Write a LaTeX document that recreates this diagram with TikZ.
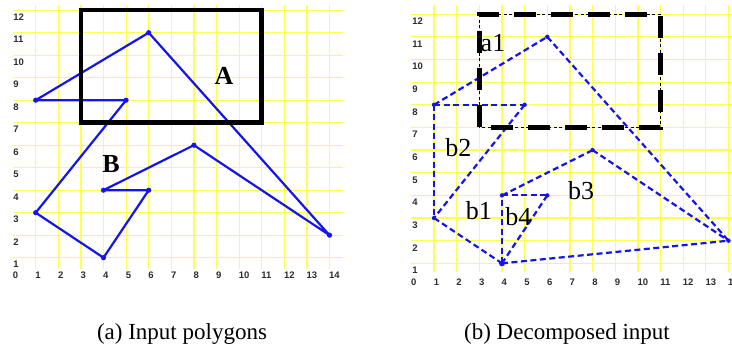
\documentclass[tikz,border=0pt]{standalone}
\usepackage{fontspec}
\setmainfont{Liberation Serif}
\newfontfamily\axisfont{Liberation Sans}
\definecolor{gridyellow}{RGB}{255,255,80}
\definecolor{polyblue}{RGB}{20,20,235}
\definecolor{axisgray}{RGB}{45,45,45}
\begin{document}
\begin{tikzpicture}[x=1pt,y=1pt,
  gridline/.style={draw=gridyellow, line width=1.2pt},
  axislbl/.style={font=\axisfont\bfseries\fontsize{9.5}{9.5}\selectfont, text=axisgray, inner sep=0pt, anchor=base west},
  polyline/.style={draw=polyblue, line width=2.2pt, line join=round, line cap=round},
  polydash/.style={draw=polyblue, line width=2.2pt, dash pattern=on 6pt off 3.5pt},
  vdot/.style={fill=polyblue},
  biglbl/.style={font=\bfseries\fontsize{26}{26}\selectfont, inner sep=0pt},
  partlbl/.style={font=\fontsize{26}{26}\selectfont, inner sep=0pt},
  captionlbl/.style={font=\fontsize{23}{23}\selectfont, inner sep=0pt, anchor=base}
]
\useasboundingbox (0,0) rectangle (732,345);

% ---------------- left panel ----------------
\begin{scope}[shift={(13.1,64.8)}, x=22.6pt, y=22.5pt]
  \foreach \i in {1,...,12} \draw[gridline] (0,\i) -- (14.6,\i);
  \foreach \i in {1,...,14} \draw[gridline] (\i,0.5) -- (\i,12.23);
  \foreach \i in {1,...,12} \node[axislbl, yshift=-9.9pt] (ly\i) at (0,\i) {\i};
  \foreach \i in {0,...,14} \node[axislbl, xshift=-0.5pt, yshift=-3.4pt] (lx\i) at (\i,0.23) {\i};
  \coordinate (p1) at (1,8);
  \coordinate (p2) at (6,11);
  \coordinate (p3) at (14,2);
  \coordinate (p4) at (8,6);
  \coordinate (p5) at (4,4);
  \coordinate (p6) at (6,4);
  \coordinate (p7) at (4,1);
  \coordinate (p8) at (1,3);
  \coordinate (p9) at (5,8);
  \draw[polyline] (p1) -- (p2) -- (p3) -- (p4) -- (p5) -- (p6) -- (p7) -- (p8) -- (p9) -- cycle;
  \foreach \p in {p1,p2,p3,p4,p5,p6,p7,p8,p9} \fill[vdot] (\p) circle (2.6pt);
  \draw[line width=4.5pt] (3,7) rectangle (11,12);
\end{scope}

% ---------------- right panel ----------------
\begin{scope}[shift={(411.4,59)}, x=22.65pt, y=22.65pt]
  \foreach \i in {1,...,12} \draw[gridline] (0,\i) -- (14.15,\i);
  \foreach \i in {1,...,14} \draw[gridline] (\i,0.6) -- (\i,12.4);
  \foreach \i in {1,...,12} \node[axislbl, yshift=-10.4pt] (ry\i) at (0.03,\i) {\i};
  \foreach \i in {0,...,14} \node[axislbl, xshift=-0.5pt, yshift=-3.4pt] (rx\i) at (\i,0.19) {\i};
  \coordinate (q1) at (1,8);
  \coordinate (q2) at (6,11);
  \coordinate (q3) at (14,2);
  \coordinate (q4) at (8,6);
  \coordinate (q5) at (4,4);
  \coordinate (q6) at (6,4);
  \coordinate (q7) at (4,1);
  \coordinate (q8) at (1,3);
  \coordinate (q9) at (5,8);
  \draw[polydash] (q1) -- (q2);
  \draw[polydash] (q2) -- (q3);
  \draw[polydash] (q1) -- (q9);
  \draw[polydash] (q9) -- (q8);
  \draw[polydash] (q1) -- (q8);
  \draw[polydash] (q8) -- (q7);
  \draw[polydash] (q7) -- (q3);
  \draw[polydash] (q7) -- (q5);
  \draw[polydash] (q5) -- (q6);
  \draw[polydash] (q6) -- (q7);
  \draw[polydash] (q5) -- (q4);
  \draw[polydash] (q4) -- (q3);
  \foreach \p in {q1,q2,q3,q4,q5,q6,q8,q9} \fill[vdot] (\p) circle (2.2pt);
  \fill[vdot] (q7) circle (3pt);
  \draw[black, line width=1.3pt, dash pattern=on 3pt off 2.5pt] (3,7) rectangle (11,12);
  \draw[black, line width=5pt, dash pattern=on 22pt off 15pt] (3,7) rectangle (11,12);
\end{scope}

% ---------------- labels ----------------
\node[biglbl] (A) at (224,269) {A};
\node[biglbl] (B) at (111,181) {B};
\node[partlbl] (a1) at (493,301.7) {a1};
\node[partlbl] (b2) at (458.3,197.5) {b2};
\node[partlbl] (b3) at (581,154.2) {b3};
\node[partlbl] (b1) at (478.8,134.2) {b1};
\node[partlbl] (b4) at (518.3,128.3) {b4};

\node[captionlbl] (capa) at (182,5) {(a) Input polygons};
\node[captionlbl] (capb) at (567,5) {(b) Decomposed input};
\end{tikzpicture}
\end{document}
